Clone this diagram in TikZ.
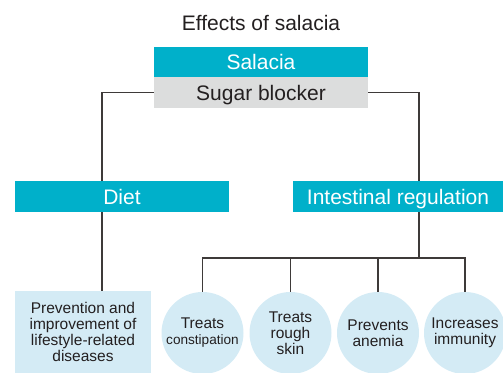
\documentclass[tikz,border=0pt]{standalone}
\usepackage{fontspec}
\setmainfont{Liberation Sans}
\definecolor{cyanbox}{HTML}{00B0CA}
\definecolor{graybox}{HTML}{DCDDDD}
\definecolor{lightblue}{HTML}{D4EBF5}
\definecolor{linecol}{HTML}{3E3A39}
\definecolor{textcol}{HTML}{231F20}
\tikzset{
  bigtext/.style={font=\fontsize{21}{24}\selectfont},
  cyanstyle/.style={rectangle, fill=cyanbox, text=white, bigtext, inner sep=0pt,
    minimum width=214pt, minimum height=31pt, text height=15pt, text depth=0pt},
  graystyle/.style={rectangle, fill=graybox, text=textcol, bigtext, inner sep=0pt,
    minimum width=214pt, minimum height=31pt, text height=15pt, text depth=0pt},
  bubble/.style={circle, fill=lightblue, text=textcol, inner sep=0pt, minimum size=82pt,
    align=center, font=\fontsize{15.5}{16}\selectfont},
  conn/.style={draw=linecol, line width=1.1pt}
}
\begin{document}
\begin{tikzpicture}[x=1pt,y=-1pt]
\useasboundingbox (0,0) rectangle (503,372);
\clip (0,0) rectangle (503,372);
\node[anchor=base, inner sep=0pt, text=textcol, bigtext] (title) at (261,30.5) {Effects of salacia};
\node[cyanstyle, minimum height=30pt] (salacia) at (261,62) {Salacia};
\node[graystyle] (sugar) at (261,92.5) {Sugar blocker};
\node[cyanstyle] (diet) at (122,196.5) {Diet};
\node[cyanstyle, minimum width=210pt] (intest) at (398,196.5) {Intestinal regulation};
\node[rectangle, fill=lightblue, text=textcol, inner sep=0pt, minimum width=136pt,
  minimum height=82pt, align=center, font=\fontsize{15.5}{16}\selectfont] (prev) at (83,332)
  {Prevention and\\improvement of\\lifestyle-related\\diseases};
\node[bubble] (c1) at (202.5,333) {Treats\\{\fontsize{13.6}{16}\selectfont constipation}};
\node[bubble] (c2) at (290.5,333) {Treats\\rough\\skin};
\node[bubble] (c3) at (378,333) {Prevents\\anemia};
\node[bubble] (c4) at (465,333) {Increases\\immunity};
\coordinate (dl) at (102,181);
\coordinate (ir) at (419,181);
\coordinate (bar) at (419,258);
\draw[conn] (sugar.west) -| (dl);
\draw[conn] (sugar.east) -| (ir);
\draw[conn] (dl |- diet.south) -- (dl |- prev.north);
\draw[conn] (ir |- intest.south) -- (bar);
\draw[conn] (c1.north) -- (c1.north |- bar) -- (c4.north |- bar) -- (c4.north);
\draw[conn] (c2.north |- bar) -- (c2.north);
\draw[conn] (c3.north |- bar) -- (c3.north);
\end{tikzpicture}
\end{document}
